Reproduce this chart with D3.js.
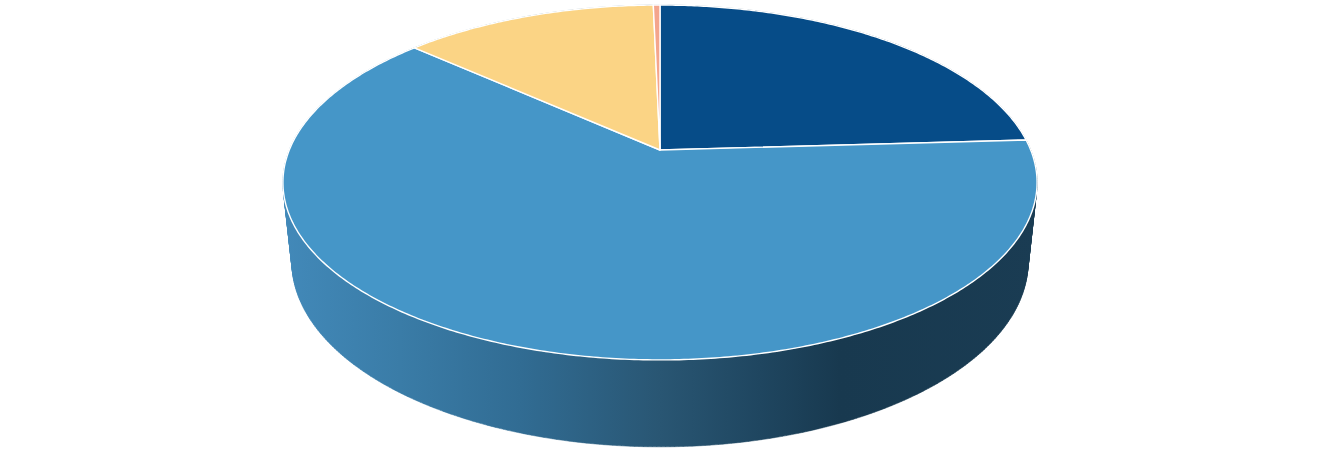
<!DOCTYPE html>
<html>
<head>
<meta charset="utf-8">
<style>html,body{margin:0;padding:0;background:#fff}svg{display:block}</style>
<script src="https://cdn.jsdelivr.net/npm/d3@7"></script>
</head>
<body>
<svg id="chart" width="1320" height="456"></svg>
<script>
const sliceValues = [24.06, 62.6, 13.0, 0.34];
const sliceColors = ["#064c88", "#4596c8", "#fbd485", "#f4a58c"];
const sideStops = [
  [283, "#4289b9"], [400, "#3a7ca7"], [520, "#316c93"], [660, "#295673"],
  [760, "#1f4660"], [840, "#18394f"], [1037, "#1a3c53"]
];

const svg = d3.select("#chart");
const k = -0.183;
const topDisc = {cx: 660, y0: 150, a: 171.5, b: 370.7};
const botDisc = {cx: 660, y0: 228, a: 178.8, b: 361.9};

// Unit-circle angle (clockwise from the far edge) to screen, through a perspective divide.
function project(disc, angle) {
  const u = Math.sin(angle), v = -Math.cos(angle), w = 1 + k * v;
  return [disc.cx + disc.b * u / w, disc.y0 + disc.a * v / w];
}

const pie = d3.pie().sort(null).startAngle(0).endAngle(2 * Math.PI);
const arcs = pie(sliceValues);
const line = d3.line();

function samples(a0, a1) {
  const n = Math.max(2, Math.ceil((a1 - a0) / 0.01));
  return d3.range(n + 1).map(i => a0 + (a1 - a0) * i / n);
}

const defs = svg.append("defs");
const grad = defs.append("linearGradient").attr("id", "side")
  .attr("gradientUnits", "userSpaceOnUse")
  .attr("x1", 283).attr("x2", 1037).attr("y1", 0).attr("y2", 0);
const offset = d3.scaleLinear().domain([283, 1037]).range([0, 1]);
grad.selectAll("stop").data(sideStops).join("stop")
  .attr("offset", d => offset(d[0]))
  .attr("stop-color", d => d[1]);

// Wall: union of quads with a consistent winding, which also fills the silhouette.
function wallPath(d) {
  const as = samples(d.startAngle, d.endAngle);
  let path = "";
  for (let i = 0; i < as.length - 1; i++) {
    let q = [project(topDisc, as[i]), project(topDisc, as[i + 1]),
             project(botDisc, as[i + 1]), project(botDisc, as[i])];
    if (d3.polygonArea(q) < 0) q = q.reverse();
    path += line(q) + "Z";
  }
  return path;
}

svg.append("g").selectAll("path").data(arcs).join("path")
  .attr("d", wallPath)
  .attr("fill", "url(#side)")
  .attr("stroke", "url(#side)")
  .attr("stroke-width", 0.5);

// Top face
svg.append("g").selectAll("path").data(arcs).join("path")
  .attr("d", d => {
    const pts = samples(d.startAngle, d.endAngle).map(a => project(topDisc, a));
    return line([[topDisc.cx, topDisc.y0], ...pts]) + "Z";
  })
  .attr("fill", (d, i) => sliceColors[i])
  .attr("stroke", "#fff")
  .attr("stroke-width", 1.4)
  .attr("stroke-linejoin", "round");
</script>
</body>
</html>
